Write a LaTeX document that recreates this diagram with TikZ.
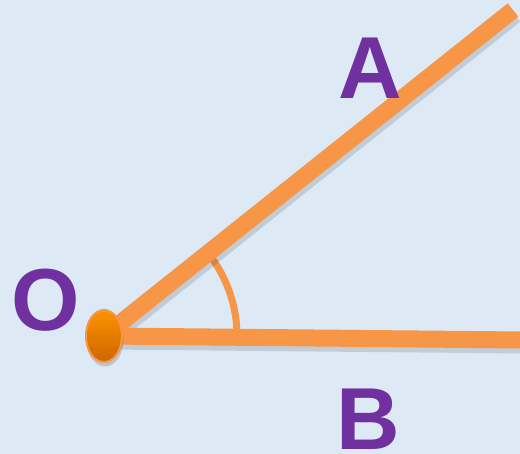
\documentclass[tikz,border=0pt]{standalone}
\usepackage{fontspec}
\usepackage{tikz}
\usepackage{xcolor}
\usetikzlibrary{shapes.geometric}
\setmainfont{Liberation Sans}

\definecolor{bgblue}{HTML}{DDE9F5}
\definecolor{rayorange}{HTML}{F79646}
\definecolor{labelpurple}{HTML}{7030A0}

\begin{document}
\begin{tikzpicture}[x=1pt, y=1pt,
    ray/.style={line width=17pt, rayorange},
    shade ray/.style={line width=17pt, black, opacity=0.12},
    letter/.style={inner sep=0pt, text=labelpurple, font=\fontsize{88}{88}\selectfont\bfseries}]
    \fill[bgblue] (0,0) rectangle (520,454);
    \useasboundingbox (0,0) rectangle (520,454);

    \coordinate (o) at (104,118);
    \coordinate (a) at (513,444);
    \coordinate (b) at (522,114);

    % angle mark
    \draw[rayorange, line width=7pt] ([shift={(-2:133)}]o) arc[start angle=-2, end angle=39, radius=133];

    % the two rays
    \draw[shade ray] ([shift={(2,-5)}]o) -- ([shift={(2,-5)}]a);
    \draw[shade ray] ([shift={(2,-5)}]o) -- ([shift={(2,-5)}]b);
    \draw[ray] (o) -- (a);
    \draw[ray] (o) -- (b);

    \node[ellipse, minimum width=37pt, minimum height=53pt, fill=black, opacity=0.15] at ([shift={(1,-4)}]o) {};
    \node[ellipse, draw=rayorange, line width=2pt, minimum width=36pt, minimum height=52pt,
          top color=orange!85!yellow, bottom color=orange!80!black] (dot) at (o) {};

    \node[letter] (labelA) at (370,385.5) {A};
    \node[letter] (labelB) at (368,35) {B};
    \node[letter] (labelO) at (46,154) {O};
\end{tikzpicture}
\end{document}
